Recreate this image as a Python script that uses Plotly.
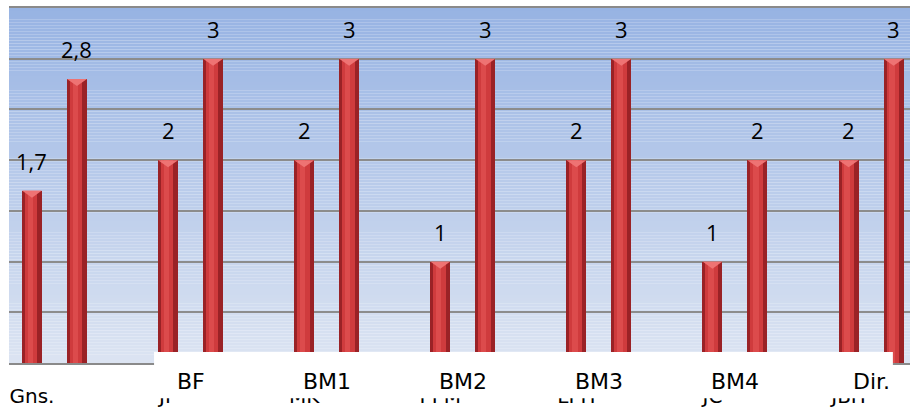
import plotly.graph_objects as go

# Data
categories = ["Gns.", "JP", "MK", "PPM", "LPH", "JC", "JBH"]
groups = ["BF", "BM1", "BM2", "BM3", "BM4", "Dir."]
series_a = [1.7, 2, 2, 1, 2, 1, 2]
series_b = [2.8, 3, 3, 3, 3, 2, 3]

# Geometry (in category units)
PAIR_OFFSET = 0.1653
BAR_W = 0.147
Y_MAX = 3.5

idx = list(range(len(categories)))
xa = [i - PAIR_OFFSET for i in idx]
xb = [i + PAIR_OFFSET for i in idx]


def fmt(v):
    return f"{v:g}".replace(".", ",")


fig = go.Figure()

# cylinder-like bars: dark body, lighter core, soft highlight
for xs, vals in ((xa, series_a), (xb, series_b)):
    fig.add_trace(go.Bar(x=xs, y=vals, width=BAR_W, marker=dict(color="#9A2226", line=dict(width=0)),
                         hoverinfo="skip", showlegend=False))
    fig.add_trace(go.Bar(x=[x - 0.006 for x in xs], y=vals, width=BAR_W * 0.62,
                         marker=dict(color="#CF3B3D", line=dict(width=0)),
                         hoverinfo="skip", showlegend=False))
    fig.add_trace(go.Bar(x=[x - 0.012 for x in xs], y=vals, width=BAR_W * 0.28,
                         marker=dict(color="#DC4B4C", line=dict(width=0)),
                         hoverinfo="skip", showlegend=False))

shapes = []

# vertical background gradient of the plot area
N = 120
top_c = (151, 179, 227)
bot_c = (220, 228, 242)
for k in range(N):
    t = (k + 0.5) / N
    c = tuple(round(bot_c[j] + (top_c[j] - bot_c[j]) * t) for j in range(3))
    shapes.append(dict(type="rect", xref="paper", yref="y", x0=0, x1=1,
                       y0=Y_MAX * k / N, y1=Y_MAX * (k + 1) / N,
                       fillcolor=f"rgb{c}", line=dict(width=0), layer="below"))

# bevelled caps on the bar tops
tri_h = 0.07
for xs, vals in ((xa, series_a), (xb, series_b)):
    for x, v in zip(xs, vals):
        shapes.append(dict(type="path", xref="x", yref="y",
                           path=f"M {x - BAR_W / 2},{v} L {x + BAR_W / 2},{v} L {x},{v - tri_h} Z",
                           fillcolor="#EE7373", line=dict(width=0), layer="above"))

# white label panel over the lower axis area
shapes.append(dict(type="rect", xref="paper", yref="paper", x0=0.161, x1=0.981,
                   y0=-0.099, y1=0.031, fillcolor="white", line=dict(width=0), layer="above"))

annotations = []
for xs, vals in ((xa, series_a), (xb, series_b)):
    for x, v in zip(xs, vals):
        annotations.append(dict(x=x, y=v, xref="x", yref="y", text=fmt(v), showarrow=False,
                                yanchor="bottom", yshift=13,
                                font=dict(family="Open Sans", size=22, color="#000000")))

for i, g in enumerate(groups, start=1):
    annotations.append(dict(x=i, y=-0.051, xref="x", yref="paper", text=g, showarrow=False,
                            yanchor="middle", font=dict(family="DejaVu Sans", size=22, color="#000000")))

fig.update_layout(
    width=910, height=408,
    margin=dict(l=9, r=0, t=8, b=45, autoexpand=False),
    paper_bgcolor="white",
    plot_bgcolor="rgba(0,0,0,0)",
    barmode="overlay",
    bargap=0,
    shapes=shapes,
    annotations=annotations,
    xaxis=dict(range=[-0.334, 6.286], tickmode="array", tickvals=xa, ticktext=categories,
               showgrid=False, zeroline=False, showline=True, mirror=True, automargin=False,
               linecolor="#8A8A8A", linewidth=2, ticks="", ticklabelstandoff=14,
               tickfont=dict(family="DejaVu Sans", size=20, color="#000000")),
    yaxis=dict(range=[0, Y_MAX], dtick=0.5, showgrid=True, gridcolor="#8C8C8C", gridwidth=2,
               zeroline=False, showticklabels=False, ticks="", showline=False, automargin=False),
)

fig.write_html("out.html")
